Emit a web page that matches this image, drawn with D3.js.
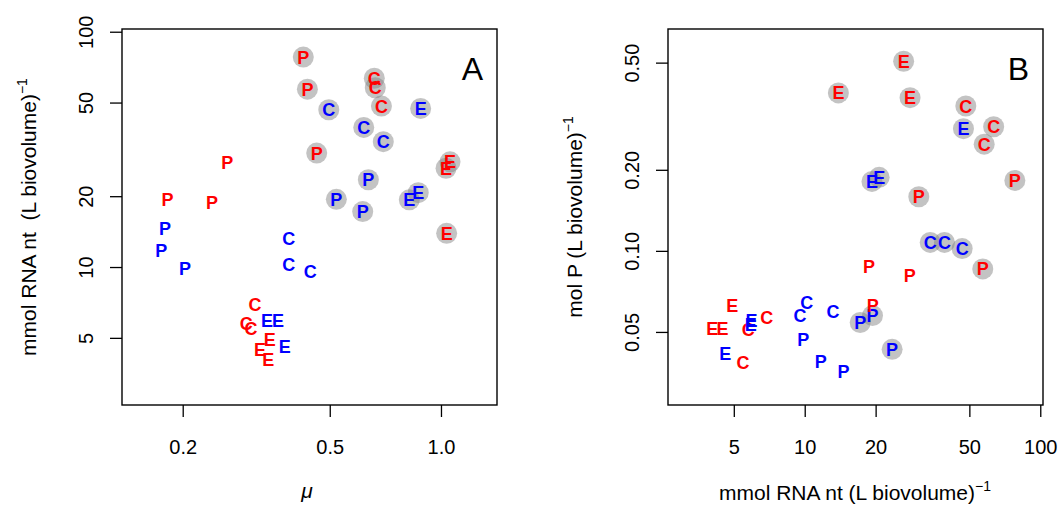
<!DOCTYPE html>
<html><head><meta charset="utf-8">
<script src="https://cdn.jsdelivr.net/npm/d3@7/dist/d3.min.js"></script>
<style>
html,body{margin:0;padding:0;background:#fff;}
svg text{font-family:"Liberation Sans",Arial,Helvetica,sans-serif;}
</style></head>
<body>
<svg id="chart" width="1060" height="506"></svg>
<script>
// ---- data ----
const labels = ["P","C","C","P","C","P","E","E","E",
                "C","E","C","C","P","P","P","E","E",
                "P","P","P","C","C","C","E","E","E",
                "P","P","P","C","C","C","E","E","E"];
const groups = [1,1,1,1,1,1,1,1,1, 2,2,2,2,2,2,2,2,2,
                1,1,1,1,1,1,1,1,1, 2,2,2,2,2,2,2,2,2];
const highlighted = [1,1,1,1,1,1,1,1,1, 1,1,1,1,1,1,1,1,1,
                     0,0,0,0,0,0,0,0,0, 0,0,0,0,0,0,0,0,0];
const mu  = [0.424,0.660,0.664,0.435,0.690,0.461,1.058,1.032,1.036,
             0.497,0.881,0.618,0.698,0.636,0.521,0.614,0.868,0.821,
             0.264,0.182,0.240,0.314,0.297,0.306,0.344,0.324,0.341,
             0.179,0.175,0.203,0.387,0.387,0.443,0.338,0.362,0.378];
const rna = [78.0,63.4,57.8,57.0,48.3,30.5,28.0,26.3,13.9,
             46.6,47.2,39.2,34.1,23.5,19.4,17.2,20.7,19.3,
             27.9,19.45,18.75,6.9,5.76,5.47,4.92,4.48,4.05,
             14.6,11.7,9.85,13.2,10.2,9.55,5.95,5.9,4.6];
const phos = [0.1827,0.289,0.249,0.0857,0.345,0.1589,0.3706,0.506,0.386,
              0.102,0.2843,0.1075,0.1075,0.0431,0.0575,0.0542,0.1875,0.1811,
              0.0808,0.0625,0.0872,0.0564,0.0512,0.0385,0.0625,0.0516,0.0513,
              0.0355,0.0387,0.0469,0.0595,0.0643,0.0577,0.0549,0.0534,0.0416];
const ticksMu  = [0.2,0.5,1.0];
const ticksMuLabels = ["0.2","0.5","1.0"];
const ticksRna = [5,10,20,50,100];
const ticksP   = [0.05,0.10,0.20,0.50];
const ticksPLabels = ["0.05","0.10","0.20","0.50"];

const data = labels.map((l,i)=>({label:l,group:groups[i],hl:highlighted[i],mu:mu[i],rna:rna[i],p:phos[i]}));
const color = d3.scaleOrdinal([1,2],["#FF0000","#0000FF"]);

const svg = d3.select("#chart");

function panel(opts){
  const {x,y,xv,yv,xt,xtl,yt,ytl,letter,xTitle,yTitle,yTitleX,yTickX,left,right} = opts;
  const g = svg.append("g");
  // box
  g.append("rect").attr("x",left).attr("y",29).attr("width",right-left).attr("height",405-29)
    .attr("fill","none").attr("stroke","#000").attr("stroke-width",1.4);
  // x axis
  const xa = g.append("g").attr("transform","translate(0,405)")
    .call(d3.axisBottom(x).tickValues(xt).tickFormat((d,i)=>xtl[i]).tickSize(12).tickSizeOuter(0));
  xa.select(".domain").remove();
  xa.selectAll("line").attr("stroke","#000").attr("stroke-width",1.3);
  xa.selectAll("text").attr("font-size",20).attr("fill","#000").attr("dy",null).attr("y",49)
    .attr("font-family","Liberation Sans, Arial, sans-serif");
  // y axis
  const ya = g.append("g").attr("transform",`translate(${left},0)`)
    .call(d3.axisLeft(y).tickValues(yt).tickFormat((d,i)=>ytl[i]).tickSize(12).tickSizeOuter(0));
  ya.select(".domain").remove();
  ya.selectAll("line").attr("stroke","#000").attr("stroke-width",1.3);
  ya.selectAll("text").remove();
  ya.selectAll(".tick").append("text")
    .attr("transform",`translate(${yTickX-left},0) rotate(-90)`)
    .attr("text-anchor","middle").attr("font-size",20).attr("fill","#000")
    .attr("font-family","Liberation Sans, Arial, sans-serif")
    .text((d,i)=>ytl[i]);
  // points
  g.selectAll("circle.hl").data(data.filter(d=>d.hl)).join("circle")
    .attr("cx",d=>x(xv(d))).attr("cy",d=>y(yv(d))).attr("r",10.5)
    .attr("fill","#808080").attr("fill-opacity",0.47);
  g.selectAll("text.pt").data(data).join("text").attr("class","pt")
    .attr("x",d=>x(xv(d))).attr("y",d=>y(yv(d))).attr("dy","0.36em")
    .attr("text-anchor","middle").attr("font-weight","bold").attr("font-size",18)
    .attr("fill",d=>color(d.group)).text(d=>d.label);
  // panel letter
  g.append("text").attr("x",right-14).attr("y",80).attr("text-anchor","end")
    .attr("font-size",32).text(letter);
  // titles
  xTitle(g);
  const yt_ = g.append("text").attr("transform",`translate(${yTitleX},217) rotate(-90)`)
    .attr("text-anchor","middle").attr("font-size",21).style("white-space","pre");
  yt_.append("tspan").text(yTitle);
  yt_.append("tspan").attr("font-size",14).attr("dy",-9).text("\u22121");
}

// Panel A
const xA = d3.scaleLog().domain([0.13700,1.4178]).range([122,497]);
const yA = d3.scaleLog().domain([2.592,102.7]).range([405,29]);
panel({x:xA,y:yA,xv:d=>d.mu,yv:d=>d.rna,xt:ticksMu,xtl:ticksMuLabels,
  yt:ticksRna,ytl:ticksRna.map(String),letter:"A",left:122,right:497,
  yTitle:"mmol RNA nt  (L biovolume)",yTitleX:36,yTickX:93,
  xTitle:g=>g.append("text").attr("x",307).attr("y",498).attr("text-anchor","middle")
    .attr("font-size",21).attr("font-style","italic").text("\u03bc")});

// Panel B
const xB = d3.scaleLog().domain([2.628,102.7]).range([668,1043]);
const yB = d3.scaleLog().domain([0.02677,0.6666]).range([405,29]);
panel({x:xB,y:yB,xv:d=>d.rna,yv:d=>d.p,xt:ticksRna,xtl:ticksRna.map(String),
  yt:ticksP,ytl:ticksPLabels,letter:"B",left:668,right:1043,
  yTitle:"mol P (L biovolume)",yTitleX:582,yTickX:639,
  xTitle:g=>{const t=g.append("text").attr("x",855).attr("y",500).attr("text-anchor","middle").attr("font-size",21);
    t.append("tspan").text("mmol RNA nt (L biovolume)");
    t.append("tspan").attr("font-size",14).attr("dy",-9).text("\u22121");}});
</script>
</body></html>
